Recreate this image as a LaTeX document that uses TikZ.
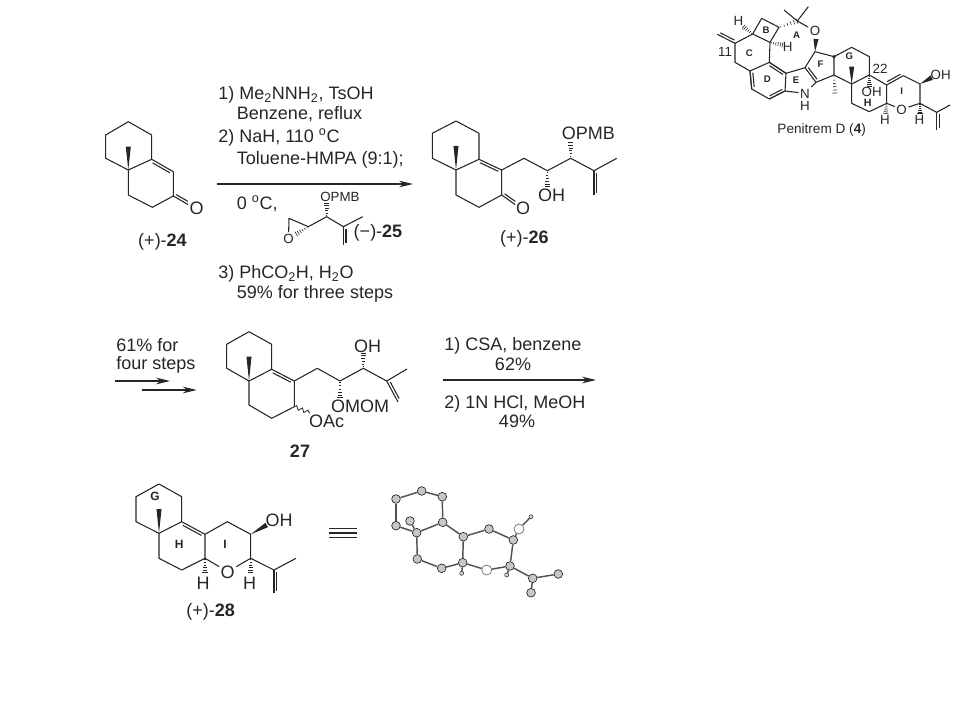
\documentclass[tikz,border=0pt]{standalone}
\usepackage{fontspec}
\setmainfont{Liberation Sans}
\usetikzlibrary{calc,arrows.meta,decorations.pathmorphing}
\colorlet{ink}{black!85}
\tikzstyle{bond}=[draw=ink, line width=.8pt, line join=round]
\tikzstyle{wavy}=[draw=ink, line width=.6pt, decorate, decoration={snake,amplitude=.5mm,segment length=1.6mm}]
\tikzstyle{path}=[-{Stealth[length=10.5pt,width=5pt]}, draw=ink, line width=.8pt]
\tikzstyle{txt}=[text=ink, inner sep=0pt, text height=9.7pt, text depth=0pt, font=\fontsize{13.5}{15}\selectfont]
\tikzstyle{reagent}=[txt, anchor=west]
\tikzstyle{atom}=[txt, inner sep=1pt]
\tikzstyle{ringlab}=[text=ink, inner sep=0pt, font=\fontsize{7.2}{8}\bfseries\selectfont]
\tikzstyle{biglab}=[text=ink, inner sep=0pt, font=\fontsize{9}{10}\bfseries\selectfont]
\tikzstyle{small}=[text=ink, inner sep=1pt, text height=7.2pt, text depth=0pt, font=\fontsize{10}{11}\selectfont]
\tikzstyle{xbond}=[draw=ink!80, line width=1.1pt]
\tikzstyle{ball}=[draw=ink, fill=black!22, circle, inner sep=0pt, minimum size=6.5pt, line width=.5pt]
\tikzstyle{oball}=[draw=ink!70, fill=white, circle, inner sep=0pt, minimum size=7.5pt, line width=.5pt]
\tikzstyle{hball}=[draw=ink, fill=black!15, circle, inner sep=0pt, minimum size=3pt, line width=.4pt]
\newcommand{\wedgebond}[2]{\fill[ink] (#1) -- ($(#2)!1.9pt!90:(#1)$) -- ($(#2)!1.9pt!-90:(#1)$) -- cycle;}
\newcommand{\hashbond}[2]{\foreach \t [evaluate=\t as \w using .3+\t*1.7] in {.1,.28,.46,.64,.82,.98} {
    \coordinate (hh) at ($(#1)!\t!(#2)$);
    \draw[ink, line width=.45pt] ($(hh)!\w pt!90:(#2)$) -- ($(hh)!\w pt!-90:(#2)$);}}
\newcommand{\dblbond}[3]{\draw[bond] (#1) -- (#2);
  \draw[bond] ($($(#1)!.1!(#2)$)!2pt!#3:(#2)$) -- ($($(#1)!.9!(#2)$)!2pt!-#3:(#1)$);}
\begin{document}
\begin{tikzpicture}[x=.75pt, y=-.75pt]
  \useasboundingbox (0,0) rectangle (960,720);

  % the four bicyclic cores
  \foreach \n/\x/\y in {a24/128.3/121.7, b24/151.7/135, c24/151.7/159.3, d24/128.3/170, e24/105.7/158.3, f24/105.7/135,
      g24/173.3/171.7, h24/173.3/196, i24/152.3/207.3, j24/128.3/195, m24/128.3/146.7, q24/188/204.5,
      a26/456/121, b26/479/133.3, c26/479/159.3, d26/456/170, e26/432.3/158.3, f26/432.3/133.3,
      g26/501.7/170, h26/501.7/195, i26/479/207.3, j26/456/195, m26/456/146, q26/515/204.5,
      a27/249/331.7, b27/271.7/344.3, c27/271.7/369.3, d27/249/381, e27/226.7/368.3, f27/226.7/344.3,
      g27/294.3/381, h27/294.3/406.7, i27/271.7/418.3, j27/249/405, m27/249/356.7,
      a28/159/484, b28/181.7/496.7, c28/181.7/521.7, d28/159/533.3, e28/136/521.7, f28/136/496.7,
      g28/205/534.3, h28/205/558.3, i28/181.7/570, j28/159/558.3, m28/159/509}
    \coordinate (\n) at (\x,\y);
  \foreach \m in {24,26,27,28} {
    \draw[bond] (a\m) -- (b\m) -- (c\m) (c\m) -- (d\m) -- (e\m) -- (f\m) -- (a\m);
    \draw[bond] (g\m) -- (h\m) -- (i\m) -- (j\m) -- (d\m);
    \dblbond{c\m}{g\m}{-90}
    \wedgebond{d\m}{m\m}
  }

  % 24 and 26
  \node[atom] (o24) at (196.5,208.5) {O};
  \dblbond{h24}{q24}{90}
  \node[txt] (n24) at (162.5,240) {(+)-\textbf{24}};
  \node[atom] (o26) at (523,208.5) {O};
  \dblbond{h26}{q26}{90}
  \foreach \n/\x/\y in {k26/524/158.3, l26/547.3/170.7, p26/570.7/158.3, r26/594/170.7, s26/616.7/158.3, t26/594/195, u26/547.3/187, v26/570.7/142}
    \coordinate (\n) at (\x,\y);
  \draw[bond] (g26) -- (k26) -- (l26) -- (p26) -- (r26) -- (s26);
  \dblbond{r26}{t26}{90}
  \hashbond{l26}{u26}
  \hashbond{p26}{v26}
  \node[atom] (oh26) at (551.7,195) {OH};
  \node[atom] (pmb26) at (588.3,133.5) {OPMB};
  \node[txt] (n26) at (524.3,237.5) {(+)-\textbf{26}};

  % reagents of the first arrow
  \node[reagent] (r1) at (218,92.7) {1) Me\textsubscript{2}NNH\textsubscript{2}, TsOH};
  \node[reagent] (r2) at (236.7,113) {Benzene, reflux};
  \node[reagent] (r3) at (218,135.7) {2) NaH, 110 \textsuperscript{o}C};
  \node[reagent] (r4) at (236.7,158) {Toluene-HMPA (9:1);};
  \coordinate (s1) at (216.7,184);
  \coordinate (e1) at (413,184);
  \draw[path] (s1) -- (e1);
  \node[reagent] (r5) at (236.7,203) {0 \textsuperscript{o}C,};
  \node[reagent] (r6) at (218,271.7) {3) PhCO\textsubscript{2}H, H\textsubscript{2}O};
  \node[reagent] (r7) at (236.7,291.7) {59\% for three steps};

  % epoxide 25
  \foreach \n/\x/\y in {a25/289/218.3, b25/308.3/226.7, c25/326.7/216.7, d25/343.3/226.7, e25/362.7/216.7, f25/343.3/245, g25/326.7/203, h25/296/234}
    \coordinate (\n) at (\x,\y);
  \node[small] (o25) at (288.5,238.5) {O};
  \node[small] (pmb25) at (340,197) {OPMB};
  \draw[bond] (o25) -- (a25) -- (b25) -- (c25) -- (d25) -- (e25);
  \dblbond{d25}{f25}{90}
  \hashbond{c25}{g25}
  \hashbond{b25}{h25}
  \node[txt] (n25) at (378,230.7) {(−)-\textbf{25}};

  % 27
  \foreach \n/\x/\y in {k27/317.3/368.3, l27/340/381, p27/363.3/368.3, r27/386.7/381, s27/407/369, t27/398/402, u27/340/398, v27/363.3/353, w27/310/413}
    \coordinate (\n) at (\x,\y);
  \draw[bond] (g27) -- (k27) -- (l27) -- (p27) -- (r27) -- (s27);
  \dblbond{r27}{t27}{90}
  \hashbond{l27}{u27}
  \hashbond{p27}{v27}
  \draw[wavy] (h27) -- (w27);
  \node[atom] (oh27) at (367.7,345.7) {OH};
  \node[atom] (mom27) at (360,406.5) {OMOM};
  \node[atom] (ac27) at (326.7,421) {OAc};
  \node[txt] (n27) at (300,450.7) {\textbf{27}};
  \node[reagent] (r8) at (116,345.5) {61\% for};
  \node[reagent] (r9) at (116,363.5) {four steps};
  \coordinate (s2) at (115,381);
  \coordinate (e2) at (170,381);
  \coordinate (s3) at (141.7,390);
  \coordinate (e3) at (196.7,390);
  \draw[path] (s2) -- (e2);
  \draw[path] (s3) -- (e3);
  \coordinate (s4) at (443,380);
  \coordinate (e4) at (596,380);
  \draw[path] (s4) -- (e4);
  \node[reagent] (r10) at (444,344) {1) CSA, benzene};
  \node[txt] (r11) at (513,364) {62\%};
  \node[reagent] (r12) at (444,402) {2) 1N HCl, MeOH};
  \node[txt] (r13) at (517,421) {49\%};

  % 28
  \foreach \n/\x/\y in {k28/227.3/521.7, l28/250.7/534.3, p28/250.7/558.3, r28/274/570, s28/296/558.3, t28/274/593.3, u28/205/573, v28/250.7/573, w28/266.7/525}
    \coordinate (\n) at (\x,\y);
  \node[atom] (o28) at (227.7,571.7) {O};
  \draw[bond] (g28) -- (k28) -- (l28) -- (p28) -- (o28) -- (h28);
  \draw[bond] (p28) -- (r28) -- (s28);
  \dblbond{r28}{t28}{90}
  \wedgebond{l28}{w28}
  \hashbond{h28}{u28}
  \hashbond{p28}{v28}
  \node[atom] (oh28) at (279,520) {OH};
  \node[atom] (h1) at (203,583) {H};
  \node[atom] (h2) at (249.5,583) {H};
  \node[biglab] (lg) at (155,496.7) {G};
  \node[biglab] (lh) at (179.3,544.3) {H};
  \node[biglab] (li) at (225,544.3) {I};
  \node[txt] (n28) at (210.7,610) {(+)-\textbf{28}};
  \foreach \n/\y in {q1/528.3, q2/533, q3/537.7} {
    \coordinate (\n l) at (329.3,\y);
    \coordinate (\n r) at (356.7,\y);
    \draw[bond, line width=1pt] (\n l) -- (\n r);
  }

  % crystal structure
  \foreach \n/\x/\y in {xa/396/499, xb/421.7/491, xc/442.3/496.7, xd/442.7/522.3, xe/416.7/532.7, xf/396/525.7, xm/410/521,
      xg/463.3/536.7, xh/489/529, xi/513.3/540, xj/510/566, xl/462.7/562.7, xn/441.7/568.3, xp/417.3/559, xs/532.7/578.3, xt/558.3/574, xu/531/592.7}
    \node[ball] (\n) at (\x,\y) {};
  \foreach \n/\x/\y in {xo/519/529, xk/486.7/570}
    \node[oball] (\n) at (\x,\y) {};
  \foreach \n/\x/\y in {xq/531/516.7, xr/461.7/573.3, xv/506.7/575}
    \node[hball] (\n) at (\x,\y) {};
  \foreach \a/\b in {xa/xb, xb/xc, xc/xd, xd/xe, xe/xf, xf/xa, xe/xm, xd/xg, xg/xh, xh/xi, xi/xj, xj/xk, xk/xl, xl/xg, xl/xn, xn/xp, xp/xe,
      xi/xo, xo/xq, xj/xs, xs/xt, xs/xu, xl/xr, xj/xv}
    \draw[xbond] (\a) -- (\b);

  % Penitrem D, upper right corner
  \begin{scope}[shift={(710,5)}, x=.25pt, y=-.25pt]
    \foreach \n/\x/\y in {ch/22/88, c11/75/115, b1/128/87, b2/155/40, b3/207/67, b4/180/112, c1/75/172,
        d1/120/198, d2/178/172, d3/228/205, d4/225/258, d5/178/282, d6/125/252,
        e2/285/188, e3/318/232, f2/315/140, f3/372/155, f4/372/210, hf/375/265,
        g2/425/127, g3/478/155, g4/478/210, g5/425/237, mg/425/185,
        h2/530/240, h3/530/295, h4/478/320, h5/425/295,
        i2/580/212, i3/630/237, i4/630/295, oh/665/218, hh3/527/326, hi4/630/326,
        p1/680/322, p2/720/300, p3/680/375, hb1/100/65, hb4/218/120, ca/262/48, me1/222/15, me2/295/5,
        wo/318/102, hg4/478/245}
      \coordinate (\n) at (\x,\y);
    \node[small] (oa) at (315,78) {O};
    \node[small] (nh) at (285,265) {N};
    \node[small] (hn) at (285,303) {H};
    \node[small] (oi) at (575,313) {O};
    \node[small] (hb) at (85,47) {H};
    \node[small] (hc) at (233,125) {H};
    \node[small, inner sep=0pt] (hoh) at (485,260) {OH};
    \node[inner sep=0pt, text=ink, font=\fontsize{8}{9}\bfseries\selectfont] (hhh) at (473,292) {H};
    \node[small] (hohi) at (692,208) {OH};
    \node[small] (hh) at (525,345) {H};
    \node[small] (hi) at (628,345) {H};
    \node[small] (n11) at (45,140) {11};
    \node[small] (n22) at (510,192) {22};
    \draw[bond] (c11) -- (b1) -- (b2) -- (b3) -- (b4) -- (b1);
    \draw[bond] (c11) -- (c1) -- (d1) -- (d2) -- (d3) -- (d4) -- (d5) -- (d6) -- (d1);
    \draw[bond] (b4) -- (d2);
    \draw[bond] (d3) -- (e2) (e3) -- (nh) -- (d4);
    \draw[bond] (e2) -- (f2) -- (f3) -- (f4) -- (e3);
    \draw[bond] (f3) -- (g2) -- (g3) -- (g4) -- (g5) -- (f4);
    \draw[bond] (g4) -- (h2) (h3) -- (h4) -- (h5) -- (g5);
    \draw[bond] (h2) -- (h3) -- (oi) -- (i4) -- (i3) -- (i2);
    \draw[bond] (i4) -- (p1) -- (p2);
    \draw[bond] (me1) -- (ca) -- (me2) (ca) -- (oa);
    \dblbond{c11}{ch}{-90}
    \dblbond{d2}{d3}{-90}
    \dblbond{d4}{d5}{-90}
    \dblbond{d6}{d1}{-90}
    \dblbond{e2}{e3}{90}
    \dblbond{h2}{i2}{90}
    \dblbond{p1}{p3}{90}
    \wedgebond{f2}{wo}
    \wedgebond{g5}{mg}
    \wedgebond{i3}{oh}
    \hashbond{b1}{hb1}
    \hashbond{b4}{hb4}
    \hashbond{b3}{ca}
    \hashbond{f4}{hf}
    \hashbond{g4}{hg4}
    \hashbond{h3}{hh3}
    \hashbond{i4}{hi4}
    \fill[ink] (f3) circle (1.4pt);
    \foreach \n/\t/\x/\y in {la/A/260/92, lb/B/168/75, lc/C/118/145, ld/D/172/222, le/E/258/225, lf/F/332/178, lg2/G/418/155, li2/I/575/260}
      \node[ringlab] (\n) at (\x,\y) {\t};
    \node[text=ink, inner sep=0pt, font=\fontsize{10.2}{11}\selectfont] (pen) at (335,376) {Penitrem D (\textbf{4})};
  \end{scope}
\end{tikzpicture}
\end{document}
